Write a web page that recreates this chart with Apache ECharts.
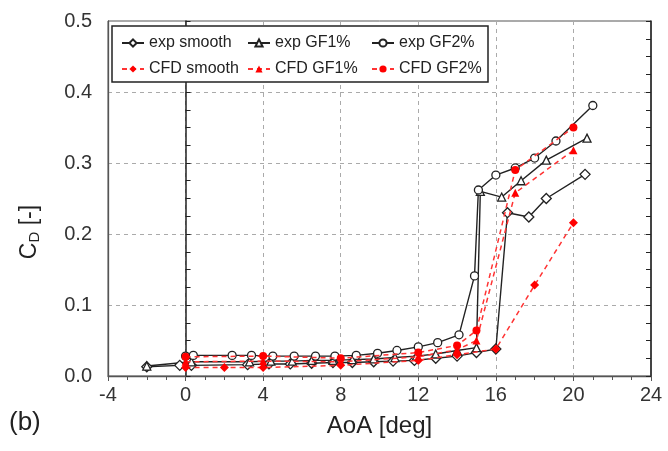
<!DOCTYPE html>
<html>
	<head>
		<meta charset="utf-8" />
		<title></title>
		<style>
			html,body{margin:0;padding:0;background:#fff;}
			#chart{width:668px;height:451px;}
		</style>
	</head>
	<body>
		<div id="chart"></div>
	</body>
	<script src="https://cdn.jsdelivr.net/npm/echarts@6/dist/echarts.min.js" type="text/javascript" charset="utf-8"></script>
	<script type="text/javascript">
		// AoA [deg] and CD values
		var expSmoothX=[-2,-0.3,0.3,3.2,4.3,5.4,6.5,7.6,8.6,9.7,10.7,11.8,12.9,14.0,15.0,16.0,16.6,17.7,18.6,20.6];
		var expSmoothY=[0.013,0.015,0.015,0.016,0.017,0.017,0.018,0.019,0.019,0.020,0.021,0.022,0.025,0.028,0.033,0.038,0.230,0.224,0.250,0.284];

		var expGF1X=[-2,0.3,3.3,4.4,5.5,6.5,7.6,8.6,9.7,10.8,11.9,12.9,14.0,15.0,15.2,16.3,17.3,18.6,20.7];
		var expGF1Y=[0.014,0.020,0.020,0.021,0.021,0.022,0.022,0.023,0.024,0.026,0.028,0.031,0.036,0.040,0.260,0.252,0.275,0.304,0.335];

		var expGF2X=[0,0.4,2.4,3.4,4.5,5.6,6.7,7.7,8.8,9.9,10.9,12.0,13.0,14.1,14.9,15.1,16.0,17.0,18.0,19.1,21.0];
		var expGF2Y=[0.028,0.029,0.029,0.029,0.028,0.028,0.028,0.028,0.029,0.032,0.036,0.041,0.047,0.058,0.141,0.262,0.283,0.293,0.307,0.331,0.381];

		var cfdSmoothX=[0,2,4,8,12,14,16,18,20];
		var cfdSmoothY=[0.012,0.012,0.012,0.015,0.022,0.030,0.038,0.128,0.216];

		var cfdGF1X=[0,4,8,12,14,15,17,20];
		var cfdGF1Y=[0.020,0.021,0.020,0.027,0.037,0.050,0.258,0.318];

		var cfdGF2X=[0,4,8,12,14,15,17,20];
		var cfdGF2Y=[0.027,0.028,0.025,0.033,0.043,0.064,0.290,0.350];

		var font="Liberation Sans";

		function pairs(xs,ys){
			var out=[];
			for (var i = 0; i < xs.length; i++) {
				out.push([xs[i],ys[i]]);
			}
			return out;
		}
		function expSeries(name,xs,ys,sym){
			return {
				name:name,type:'line',data:pairs(xs,ys),
				symbol:sym,symbolSize:sym=='diamond'?10:8,
				itemStyle:{color:'#fff',borderColor:'#222',borderWidth:1.3},
				lineStyle:{color:'#222',width:1.4},
				z:3
			};
		}
		function cfdSeries(name,xs,ys,sym){
			return {
				name:name,type:'line',data:pairs(xs,ys),
				symbol:sym,symbolSize:sym=='diamond'?9:8,
				itemStyle:{color:'#f00',borderWidth:0},
				lineStyle:{color:'#f33',width:1.5,type:[5,4]},
				z:4
			};
		}
		function legendCol(left,names){
			return {
				orient:'vertical',left:left,top:30,itemGap:10,itemWidth:22,itemHeight:9,
				data:names,textStyle:{fontFamily:font,fontSize:16,color:'#222'}
			};
		}

		var myChart=echarts.init(document.getElementById('chart'));
		var option={
			animation:false,
			backgroundColor:'#fff',
			grid:{left:108,right:17,top:21,bottom:75,show:true,borderColor:'#555',borderWidth:1},
			legend:[
				legendCol(116,['exp smooth','CFD smooth']),
				legendCol(242,['exp GF1%','CFD GF1%']),
				legendCol(366,['exp GF2%','CFD GF2%'])
			],
			graphic:[
				{type:'rect',shape:{x:112,y:26,width:376,height:56},z:3,
					style:{fill:'#fff',stroke:'#222',lineWidth:1.5}},
				{type:'text',left:9,top:410,z:5,
					style:{text:'(b)',fontFamily:font,fontSize:26,fill:'#222'}},
				{type:'text',x:30,y:232,rotation:Math.PI/2,z:5,
					style:{text:'{c|C}{d|D}{c| [-]}',align:'center',verticalAlign:'middle',
						rich:{
							c:{fontFamily:font,fontSize:23,fill:'#222'},
							d:{fontFamily:font,fontSize:15,fill:'#222',padding:[10,0,0,0]}
						}}}
			],
			xAxis:{
				type:'value',min:-4,max:24,interval:4,
				name:'AoA [deg]',nameLocation:'middle',nameGap:38,
				nameTextStyle:{fontFamily:font,fontSize:24,color:'#222'},
				axisLine:{lineStyle:{color:'#555',width:1.3}},
				axisTick:{length:5,lineStyle:{color:'#555'}},
				minorTick:{show:true,splitNumber:4,length:4,lineStyle:{color:'#555'}},
				axisLabel:{fontFamily:font,fontSize:20,color:'#333',margin:9},
				splitLine:{lineStyle:{color:'#aaa',type:[4,4]}}
			},
			yAxis:[
				{
					type:'value',min:0,max:0.5,interval:0.1,
					axisLine:{onZero:false,lineStyle:{color:'#555',width:1.3}},
					axisTick:{show:false},
					axisLabel:{fontFamily:font,fontSize:20,color:'#333',margin:16,
						formatter:function(v){return v.toFixed(1);}},
					splitLine:{lineStyle:{color:'#aaa',type:[4,4]}}
				},
				{
					type:'value',min:0,max:0.5,interval:0.1,
					axisLine:{onZero:true,lineStyle:{color:'#222',width:1.5}},
					axisTick:{length:5,lineStyle:{color:'#222'}},
					minorTick:{show:true,splitNumber:4,length:5,lineStyle:{color:'#222'}},
					axisLabel:{show:false},splitLine:{show:false}
				},
				{
					type:'value',min:0,max:0.5,interval:0.1,
					axisLine:{onZero:true,lineStyle:{color:'#222',width:1.5}},
					axisTick:{inside:true,length:5,lineStyle:{color:'#222'}},
					minorTick:{show:true,splitNumber:4,length:5,lineStyle:{color:'#222'}},
					axisLabel:{show:false},splitLine:{show:false}
				}
			],
			series:[
				expSeries('exp smooth',expSmoothX,expSmoothY,'diamond'),
				expSeries('exp GF1%',expGF1X,expGF1Y,'triangle'),
				expSeries('exp GF2%',expGF2X,expGF2Y,'circle'),
				cfdSeries('CFD smooth',cfdSmoothX,cfdSmoothY,'diamond'),
				cfdSeries('CFD GF1%',cfdGF1X,cfdGF1Y,'triangle'),
				cfdSeries('CFD GF2%',cfdGF2X,cfdGF2Y,'circle')
			]
		};
		myChart.setOption(option);
	</script>
</html>
